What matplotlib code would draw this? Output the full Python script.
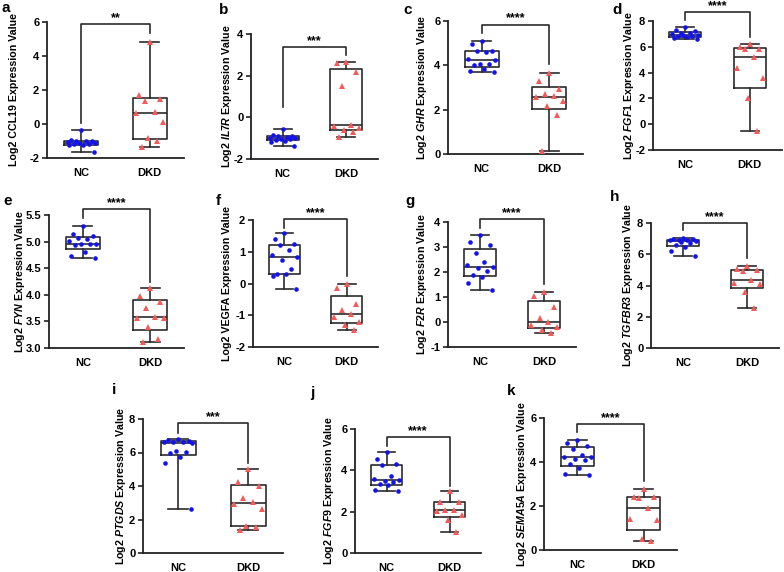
import numpy as np
import matplotlib
matplotlib.use('Agg')
import matplotlib.pyplot as plt

plt.rcParams['font.family'] = ['Liberation Sans', 'DejaVu Sans']
plt.rcParams['font.weight'] = 'bold'
plt.rcParams['mathtext.fontset'] = 'custom'
plt.rcParams['mathtext.it'] = 'Liberation Sans:italic:bold'
plt.rcParams['mathtext.rm'] = 'Liberation Sans:bold'
plt.rcParams['mathtext.bf'] = 'Liberation Sans:bold'

# ---------------- data ----------------
groups = ['NC', 'DKD']
letters = ['a', 'b', 'c', 'd', 'e', 'f', 'g', 'h', 'i', 'j', 'k']
genes = ['CCL19', 'IL7R', 'GHR', 'FGF1', 'FYN', 'VEGFA', 'F2R', 'TGFBR3',
         'PTGDS', 'FGF9', 'SEMA5A']
gene_italic = [False, True, True, True, True, False, True, True, True, True, True]
significance = ['**', '***', '****', '****', '****', '****', '****', '****',
                '***', '****', '****']

nc_ccl19 = [-0.38, -0.95, -0.98, -1.0, -1.02, -1.05, -1.1, -1.12, -1.15, -1.2, -1.22, -1.25, -1.62]
dkd_ccl19 = [4.82, 1.7, 1.45, 1.35, 0.7, 0.65, 0.1, -0.85, -1.0, -1.35]

nc_il7r = [-0.58, -0.85, -0.88, -0.9, -0.95, -1.0, -1.0, -1.02, -1.05, -1.1, -1.12, -1.2, -1.38]
dkd_il7r = [2.68, 2.6, 2.2, 1.5, -0.35, -0.42, -0.5, -0.6, -0.7, -0.95]

nc_ghr = [5.1, 4.95, 4.65, 4.65, 4.6, 4.3, 4.22, 4.05, 4.05, 4.0, 3.85, 3.75, 3.7]
dkd_ghr = [3.65, 3.3, 2.95, 2.7, 2.6, 2.55, 2.4, 2.15, 1.75, 0.15]

nc_fgf1 = [7.5, 7.3, 7.2, 7.1, 7.05, 7.0, 6.95, 6.9, 6.85, 6.8, 6.75, 6.7, 6.6]
dkd_fgf1 = [6.2, 5.95, 5.85, 5.8, 5.2, 4.35, 3.6, 2.05, -0.5]

nc_fyn = [5.3, 5.15, 5.1, 5.07, 5.05, 5.02, 4.96, 4.96, 4.95, 4.93, 4.8, 4.73, 4.7]
dkd_fyn = [4.12, 3.97, 3.87, 3.75, 3.58, 3.57, 3.57, 3.4, 3.17, 3.12]

nc_vegfa = [1.58, 1.4, 1.25, 1.2, 1.05, 0.9, 0.85, 0.75, 0.45, 0.3, 0.3, 0.25, -0.18]
dkd_vegfa = [-0.02, -0.15, -0.65, -0.85, -0.95, -1.05, -1.2, -1.3, -1.45]

nc_f2r = [3.48, 3.2, 3.1, 2.75, 2.4, 2.3, 2.22, 2.15, 2.05, 1.9, 1.8, 1.55, 1.3]
dkd_f2r = [1.22, 1.05, 0.6, 0.15, 0.0, -0.1, -0.2, -0.3, -0.45]

nc_tgfbr3 = [7.05, 7.0, 6.95, 6.92, 6.9, 6.88, 6.82, 6.8, 6.75, 6.6, 6.45, 6.2, 5.9]
dkd_tgfbr3 = [5.25, 5.05, 4.98, 4.95, 4.38, 4.15, 4.1, 3.6, 2.55]

nc_ptgds = [6.78, 6.75, 6.7, 6.65, 6.65, 6.6, 6.55, 6.1, 6.05, 6.0, 5.75, 5.4, 2.6]
dkd_ptgds = [5.0, 4.25, 4.0, 3.3, 3.05, 2.95, 2.6, 1.6, 1.55, 1.35]

nc_fgf9 = [4.9, 4.55, 4.3, 4.25, 3.75, 3.6, 3.55, 3.5, 3.45, 3.32, 3.3, 3.05, 3.0]
dkd_fgf9 = [3.0, 2.45, 2.45, 2.1, 2.1, 2.05, 1.85, 1.6, 1.0]

nc_sema5a = [4.98, 4.85, 4.72, 4.6, 4.3, 4.25, 4.22, 4.15, 4.1, 3.92, 3.75, 3.45, 3.42]
dkd_sema5a = [2.78, 2.42, 2.4, 2.38, 1.92, 1.4, 1.35, 0.5, 0.4]

nc_values = [nc_ccl19, nc_il7r, nc_ghr, nc_fgf1, nc_fyn, nc_vegfa, nc_f2r,
             nc_tgfbr3, nc_ptgds, nc_fgf9, nc_sema5a]
dkd_values = [dkd_ccl19, dkd_il7r, dkd_ghr, dkd_fgf1, dkd_fyn, dkd_vegfa, dkd_f2r,
              dkd_tgfbr3, dkd_ptgds, dkd_fgf9, dkd_sema5a]

yticks = [
    [-2, 0, 2, 4, 6],
    [-2, 0, 2, 4],
    [0, 2, 4, 6],
    [-2, 0, 2, 4, 6, 8],
    [3.0, 3.5, 4.0, 4.5, 5.0, 5.5],
    [-2, -1, 0, 1, 2],
    [-1, 0, 1, 2, 3, 4],
    [0, 2, 4, 6, 8],
    [0, 2, 4, 6, 8],
    [0, 2, 4, 6],
    [0, 2, 4, 6],
]
ytick_fmt = ['%d', '%d', '%d', '%d', '%.1f', '%d', '%d', '%d', '%d', '%d', '%d']

# ---------------- layout (pixels: left, top, right, bottom) ----------------
W, H = 784, 572
axes_px = [
    (47, 22, 184, 158), (251, 34, 378, 159), (448, 21, 583, 154), (653, 21, 782, 150),
    (49, 215, 184, 348), (253, 220, 378, 347), (448, 222, 576, 347), (651, 223, 779, 348),
    (143, 419, 283, 553), (355, 429, 481, 553), (544, 418, 677, 550),
]
ylabel_x_px = [14, 227, 422, 629, 20, 227, 422, 628, 121, 329, 522]
letter_px = [(1, 8), (219, 10), (403, 10), (612, 10),
             (3, 201), (216, 201), (405, 201), (610, 197),
             (112, 390), (310, 393), (507, 391)]
# bracket: (bracket y, left leg bottom, right leg bottom) in data units
brackets = [
    (5.88, 0.06, 5.35), (3.38, 0.48, 3.0), (5.84, 5.48, 4.04), (8.7, 8.06, 6.77),
    (5.607, 5.44, 4.24), (2.03, 1.76, 0.24), (4.12, 3.76, 1.52), (8.0, 7.57, 5.75),
    (7.78, 7.14, 5.36), (5.61, 5.19, 3.26), (5.74, 5.36, 3.14),
]

jitter = [0.0, -0.15, 0.15, -0.07, 0.07, -0.2, 0.2, -0.03, 0.11, -0.11, 0.03, -0.18, 0.18]

NC_COLOR = '#1212F0'
DKD_COLOR = '#F55A5A'
LINE_COLOR = '#2b2b2b'

fig = plt.figure(figsize=(W / 100, H / 100), dpi=100)


def box_stats(vals):
    v = np.asarray(vals, dtype=float)
    return dict(
        med=np.median(v),
        q1=np.percentile(v, 25, method='weibull'),
        q3=np.percentile(v, 75, method='weibull'),
        whislo=v.min(), whishi=v.max(), fliers=[])


for i in range(len(genes)):
    l, t, r, b = axes_px[i]
    ax = fig.add_axes([l / W, 1 - b / H, (r - l) / W, (b - t) / H])
    data = [nc_values[i], dkd_values[i]]
    stats = [box_stats(d) for d in data]
    ax.bxp(stats, positions=[0, 1], widths=0.5, showfliers=False,
           boxprops=dict(color=LINE_COLOR, linewidth=1.2),
           medianprops=dict(color=LINE_COLOR, linewidth=1.2),
           whiskerprops=dict(color=LINE_COLOR, linewidth=1.2),
           capprops=dict(color=LINE_COLOR, linewidth=1.2),
           capwidths=0.28, zorder=2)
    # points
    for g, (vals, col, mk, ms) in enumerate([(nc_values[i], NC_COLOR, 'o', 3.3),
                                              (dkd_values[i], DKD_COLOR, '^', 4.2)]):
        xs = [g + jitter[k % len(jitter)] for k in range(len(vals))]
        ax.plot(xs, vals, linestyle='none', marker=mk, color=col, markersize=ms,
                markeredgewidth=0, zorder=3, clip_on=False)

    ax.set_xlim(-0.5, 1.5)
    yt = yticks[i]
    ax.set_ylim(yt[0], yt[-1])
    ax.set_yticks(yt)
    ax.set_yticklabels([ytick_fmt[i] % v for v in yt])
    ax.set_xticks([0, 1])
    ax.set_xticklabels(groups)
    for s in ['top', 'right']:
        ax.spines[s].set_visible(False)
    for s in ['left', 'bottom']:
        ax.spines[s].set_linewidth(1.3)
        ax.spines[s].set_color('#222222')
    ax.tick_params(axis='y', length=3.5, width=1.2, labelsize=8, pad=2, color='#222222')
    ax.tick_params(axis='x', length=0, labelsize=8, pad=7)
    for lab in ax.get_xticklabels() + ax.get_yticklabels():
        lab.set_fontweight('bold')

    gene = genes[i]
    gtxt = r'$\mathit{%s}$' % gene if gene_italic[i] else gene
    ax.set_ylabel('Log2 %s Expression Value' % gtxt, fontsize=7.7, fontweight='bold')
    ax.yaxis.label.set_verticalalignment('center')
    ax.yaxis.set_label_coords((ylabel_x_px[i] - l) / (r - l), 0.5)

    by, lb, rb = brackets[i]
    ax.plot([0, 0, 1, 1], [lb, by, by, rb], color=LINE_COLOR, linewidth=1.2,
            clip_on=False, zorder=4)
    ax.text(0.5, by, significance[i], ha='center', va='bottom', fontsize=9,
            fontweight='bold', clip_on=False)

    lx, ly = letter_px[i]
    fig.text(lx / W, 1 - ly / H, letters[i], fontsize=11, fontweight='bold',
             ha='left', va='center')

fig.savefig('out.png', dpi=100)
